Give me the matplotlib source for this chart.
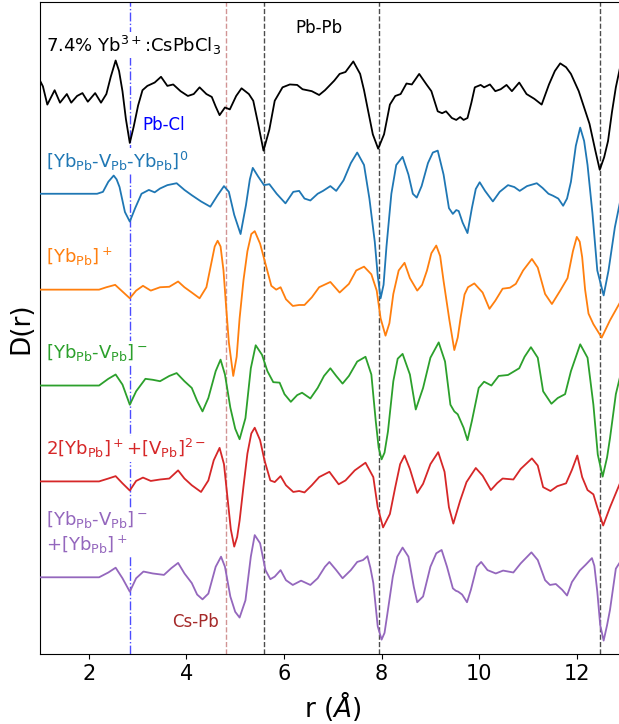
import matplotlib
matplotlib.use("Agg")
import matplotlib.pyplot as plt

# D(r) curves, (r, D) pairs relative to each curve's own baseline
black = [(1.00, 0.18), (1.06, 0.12), (1.15, -0.07), (1.30, 0.08), (1.41, -0.05), (1.55, 0.04), (1.64, -0.05),
         (1.76, 0.02), (1.87, 0.05), (1.98, -0.04), (2.13, 0.05), (2.25, -0.05), (2.36, 0.04), (2.45, 0.22),
         (2.55, 0.39), (2.62, 0.28), (2.69, 0.07), (2.76, -0.22), (2.84, -0.47), (2.92, -0.30), (3.01, -0.08),
         (3.10, 0.08), (3.20, 0.125), (3.35, 0.16), (3.48, 0.22), (3.61, 0.125), (3.73, 0.14), (3.88, 0.07),
         (4.03, 0.02), (4.15, 0.04), (4.27, 0.11), (4.41, 0.04), (4.52, 0.01), (4.60, -0.09), (4.68, -0.18),
         (4.79, -0.10), (4.89, -0.12), (5.02, 0.02), (5.13, 0.10), (5.28, 0.04), (5.37, -0.03), (5.47, -0.27),
         (5.58, -0.55), (5.70, -0.33), (5.81, -0.03), (5.97, 0.11), (6.12, 0.14), (6.27, 0.135), (6.38, 0.09),
         (6.57, 0.07), (6.72, 0.03), (6.84, 0.08), (7.03, 0.18), (7.14, 0.25), (7.26, 0.27), (7.42, 0.38),
         (7.56, 0.25), (7.64, 0.08), (7.71, -0.10), (7.82, -0.38), (7.93, -0.53), (8.05, -0.38), (8.17, -0.07),
         (8.28, 0.02), (8.39, 0.04), (8.51, 0.15), (8.62, 0.14), (8.77, 0.25), (8.92, 0.14), (9.02, 0.07),
         (9.15, -0.14), (9.24, -0.16), (9.32, -0.14), (9.44, -0.21), (9.53, -0.23), (9.61, -0.20), (9.68, -0.23),
         (9.76, -0.21), (9.84, -0.05), (9.91, 0.11), (10.03, 0.135), (10.10, 0.11), (10.22, 0.14), (10.33, 0.07),
         (10.44, 0.09), (10.56, 0.135), (10.67, 0.07), (10.82, 0.16), (10.97, 0.04), (11.13, -0.01), (11.28, -0.07),
         (11.43, 0.14), (11.55, 0.28), (11.66, 0.36), (11.78, 0.32), (11.88, 0.25), (12.04, 0.07), (12.26, -0.27),
         (12.38, -0.55), (12.47, -0.75), (12.56, -0.62), (12.64, -0.45), (12.72, -0.15), (12.80, 0.11), (12.90, 0.35)]

blue = [(1.0, 0), (2.17, 0), (2.29, 0.02), (2.40, 0.125), (2.51, 0.19), (2.57, 0.15), (2.63, 0.07), (2.74, -0.19),
        (2.84, -0.29), (2.95, -0.15), (3.08, 0.0), (3.23, 0.04), (3.35, 0.015), (3.46, 0.055), (3.61, 0.09),
        (3.80, 0.11), (3.96, 0.04), (4.11, -0.015), (4.30, -0.08), (4.49, -0.135), (4.64, -0.015), (4.77, 0.08),
        (4.87, 0.02), (4.98, -0.22), (5.11, -0.42), (5.22, -0.12), (5.30, 0.15), (5.36, 0.27), (5.47, 0.18),
        (5.59, 0.09), (5.70, 0.10), (5.85, 0.0), (6.03, -0.10), (6.19, 0.02), (6.31, 0.03), (6.42, -0.05),
        (6.54, -0.07), (6.69, 0.0), (6.80, 0.03), (6.95, 0.08), (7.07, 0.03), (7.22, 0.14), (7.37, 0.32),
        (7.50, 0.43), (7.64, 0.30), (7.75, -0.05), (7.86, -0.50), (7.92, -0.85), (7.98, -1.09), (8.04, -0.95),
        (8.10, -0.55), (8.20, 0.0), (8.30, 0.30), (8.43, 0.385), (8.55, 0.20), (8.64, 0.0), (8.72, -0.04),
        (8.82, 0.08), (8.95, 0.32), (9.05, 0.43), (9.15, 0.45), (9.27, 0.20), (9.38, -0.15), (9.46, -0.21),
        (9.53, -0.17), (9.58, -0.18), (9.66, -0.30), (9.76, -0.41), (9.85, -0.15), (9.93, 0.05), (10.01, 0.12),
        (10.12, 0.03), (10.28, -0.08), (10.42, 0.02), (10.59, 0.09), (10.72, 0.07), (10.83, 0.03), (10.98, 0.08),
        (11.18, 0.11), (11.30, 0.06), (11.42, 0.0), (11.51, -0.02), (11.62, -0.05), (11.72, -0.125), (11.80, -0.05),
        (11.88, 0.125), (11.98, 0.50), (12.07, 0.69), (12.15, 0.55), (12.22, 0.30), (12.32, -0.20), (12.42, -0.80),
        (12.55, -1.06), (12.65, -0.80), (12.78, -0.35), (12.90, -0.05)]

orange = [(1.0, 0), (2.21, 0), (2.36, 0.025), (2.54, 0.05), (2.69, -0.02), (2.84, -0.09), (2.97, -0.01),
          (3.11, 0.04), (3.27, -0.01), (3.46, 0.025), (3.65, 0.03), (3.83, 0.085), (3.96, 0.025), (4.11, -0.03),
          (4.27, -0.09), (4.41, 0.025), (4.52, 0.30), (4.58, 0.45), (4.64, 0.51), (4.70, 0.45), (4.76, 0.20),
          (4.81, -0.15), (4.87, -0.55), (4.96, -0.90), (5.03, -0.70), (5.09, -0.30), (5.17, 0.10), (5.25, 0.40),
          (5.33, 0.58), (5.40, 0.61), (5.51, 0.48), (5.62, 0.27), (5.74, 0.04), (5.84, 0.0), (5.93, 0.025),
          (6.04, -0.10), (6.18, -0.17), (6.31, -0.16), (6.42, -0.16), (6.57, -0.08), (6.72, 0.025), (6.95, 0.08),
          (7.14, -0.03), (7.33, 0.06), (7.48, 0.20), (7.64, 0.24), (7.79, 0.16), (7.90, -0.01), (7.98, -0.30),
          (8.08, -0.48), (8.16, -0.35), (8.24, -0.045), (8.35, 0.20), (8.47, 0.28), (8.58, 0.12), (8.73, -0.01),
          (8.83, 0.05), (8.93, 0.20), (9.02, 0.38), (9.12, 0.46), (9.20, 0.35), (9.27, 0.09), (9.39, -0.32),
          (9.49, -0.63), (9.56, -0.50), (9.62, -0.29), (9.70, -0.05), (9.77, 0.025), (9.90, 0.065), (10.07, -0.03),
          (10.21, -0.20), (10.33, -0.115), (10.48, 0.01), (10.63, 0.02), (10.75, 0.06), (10.90, 0.20), (11.08, 0.32),
          (11.20, 0.23), (11.35, -0.045), (11.49, -0.15), (11.66, -0.01), (11.81, 0.12), (11.92, 0.40), (12.00, 0.55),
          (12.06, 0.50), (12.11, 0.34), (12.17, 0.0), (12.24, -0.25), (12.34, -0.36), (12.51, -0.50), (12.68, -0.32),
          (12.90, -0.12)]

green = [(1.0, 0), (2.21, 0), (2.40, 0.07), (2.55, 0.115), (2.69, 0.01), (2.84, -0.20), (2.97, -0.06), (3.16, 0.07),
         (3.31, 0.06), (3.46, 0.045), (3.65, 0.10), (3.80, 0.13), (3.96, 0.045), (4.11, -0.025), (4.22, -0.16),
         (4.33, -0.27), (4.45, -0.13), (4.60, 0.15), (4.70, 0.27), (4.79, 0.115), (4.90, -0.23), (5.00, -0.45),
         (5.09, -0.56), (5.21, -0.34), (5.32, 0.18), (5.42, 0.42), (5.55, 0.32), (5.66, 0.15), (5.78, 0.035),
         (5.91, 0.03), (6.01, -0.09), (6.14, -0.17), (6.27, -0.10), (6.37, -0.075), (6.54, -0.135), (6.69, -0.025),
         (6.82, 0.10), (6.95, 0.18), (7.07, 0.10), (7.20, 0.02), (7.33, 0.10), (7.50, 0.25), (7.67, 0.30),
         (7.79, 0.115), (7.88, -0.37), (7.94, -0.65), (8.00, -0.77), (8.06, -0.70), (8.13, -0.48), (8.24, 0.045),
         (8.33, 0.28), (8.43, 0.33), (8.58, 0.115), (8.70, -0.25), (8.85, -0.025), (9.00, 0.29), (9.17, 0.45),
         (9.30, 0.25), (9.41, -0.20), (9.49, -0.27), (9.56, -0.30), (9.68, -0.44), (9.76, -0.57), (9.85, -0.37),
         (9.99, -0.025), (10.10, 0.04), (10.25, 0.0), (10.40, 0.10), (10.59, 0.11), (10.82, 0.18), (10.93, 0.30),
         (11.06, 0.40), (11.20, 0.29), (11.31, -0.06), (11.48, -0.19), (11.61, -0.13), (11.76, -0.09), (11.88, 0.15),
         (12.07, 0.43), (12.22, 0.29), (12.34, -0.20), (12.43, -0.72), (12.53, -0.95), (12.62, -0.75),
         (12.68, -0.55), (12.80, -0.09), (12.90, 0.12)]

red = [(1.0, 0), (2.21, 0), (2.40, 0.03), (2.55, 0.055), (2.69, -0.02), (2.84, -0.095), (2.97, 0.005), (3.11, 0.04),
       (3.27, 0.005), (3.46, 0.02), (3.65, 0.03), (3.83, 0.115), (3.96, 0.03), (4.11, -0.04), (4.30, -0.11),
       (4.45, 0.01), (4.56, 0.22), (4.68, 0.35), (4.77, 0.18), (4.84, -0.16), (4.91, -0.50), (4.98, -0.68),
       (5.04, -0.58), (5.09, -0.41), (5.17, -0.05), (5.25, 0.29), (5.33, 0.50), (5.40, 0.56), (5.51, 0.43),
       (5.60, 0.22), (5.72, 0.01), (5.81, -0.007), (5.93, 0.055), (6.04, -0.04), (6.19, -0.11), (6.31, -0.10),
       (6.42, -0.115), (6.57, -0.04), (6.72, 0.045), (6.93, 0.10), (7.12, -0.03), (7.26, 0.01), (7.45, 0.115),
       (7.67, 0.195), (7.83, 0.045), (7.92, -0.27), (8.03, -0.48), (8.17, -0.34), (8.28, -0.06), (8.38, 0.18),
       (8.47, 0.27), (8.58, 0.13), (8.73, -0.12), (8.85, -0.025), (9.00, 0.18), (9.16, 0.305), (9.29, 0.10),
       (9.38, -0.27), (9.47, -0.44), (9.61, -0.20), (9.74, -0.007), (9.93, 0.14), (10.07, 0.06), (10.24, -0.09),
       (10.37, -0.017), (10.48, 0.03), (10.70, 0.02), (10.85, 0.13), (11.08, 0.24), (11.20, 0.165), (11.31, -0.06),
       (11.46, -0.10), (11.60, -0.05), (11.78, -0.02), (11.90, 0.12), (12.01, 0.27), (12.11, 0.045), (12.22, -0.09),
       (12.34, -0.135), (12.42, -0.27), (12.54, -0.46), (12.68, -0.27), (12.90, 0.0)]

purple = [(1.0, 0), (2.21, 0), (2.40, 0.05), (2.55, 0.10), (2.69, -0.01), (2.84, -0.15), (2.97, -0.01), (3.12, 0.06),
          (3.31, 0.04), (3.54, 0.025), (3.69, 0.095), (3.83, 0.15), (3.96, 0.04), (4.11, -0.06), (4.22, -0.18),
          (4.33, -0.23), (4.45, -0.17), (4.60, 0.11), (4.71, 0.215), (4.79, 0.11), (4.90, -0.20), (5.00, -0.36),
          (5.09, -0.42), (5.21, -0.24), (5.32, 0.215), (5.40, 0.44), (5.51, 0.355), (5.62, 0.075), (5.72, -0.02),
          (5.81, 0.007), (5.93, 0.075), (6.04, -0.03), (6.18, -0.08), (6.35, -0.035), (6.54, -0.08), (6.69, -0.01),
          (6.84, 0.11), (6.93, 0.16), (7.07, 0.075), (7.20, -0.01), (7.37, 0.075), (7.50, 0.16), (7.62, 0.18),
          (7.71, 0.22), (7.77, 0.10), (7.83, -0.06), (7.92, -0.51), (8.00, -0.65), (8.06, -0.58), (8.11, -0.41),
          (8.23, 0.007), (8.32, 0.215), (8.43, 0.31), (8.55, 0.215), (8.66, -0.10), (8.73, -0.26), (8.85, -0.20),
          (9.00, 0.11), (9.12, 0.25), (9.23, 0.285), (9.34, 0.11), (9.46, -0.115), (9.52, -0.14), (9.57, -0.15),
          (9.65, -0.18), (9.75, -0.26), (9.83, -0.13), (9.95, 0.11), (10.04, 0.16), (10.17, 0.075), (10.34, 0.04),
          (10.49, 0.07), (10.70, 0.05), (10.85, 0.145), (11.07, 0.26), (11.20, 0.18), (11.35, -0.03), (11.45, -0.08),
          (11.57, -0.07), (11.70, -0.13), (11.80, -0.19), (11.90, -0.05), (12.06, 0.07), (12.18, 0.13), (12.31, 0.20),
          (12.36, 0.12), (12.42, -0.15), (12.48, -0.50), (12.55, -0.66), (12.62, -0.50), (12.68, -0.34),
          (12.80, 0.09), (12.90, 0.17)]

curves = [black, blue, orange, green, red, purple]
colors = ['k', 'C0', 'C1', 'C2', 'C3', 'C4']
offsets = [5, 4, 3, 2, 1, 0]
names = [r'7.4% Yb$^{3+}$:CsPbCl$_3$',
         r'[Yb$_{\rm Pb}$-V$_{\rm Pb}$-Yb$_{\rm Pb}$]$^0$',
         r'[Yb$_{\rm Pb}$]$^+$',
         r'[Yb$_{\rm Pb}$-V$_{\rm Pb}$]$^-$',
         r'2[Yb$_{\rm Pb}$]$^+$+[V$_{\rm Pb}$]$^{2-}$',
         r'[Yb$_{\rm Pb}$-V$_{\rm Pb}$]$^-$' + '\n' + r'+[Yb$_{\rm Pb}$]$^+$']
name_y = [5.55, 4.34, 3.34, 2.34, 1.34, 0.47]

# bond distances marked with vertical lines
r_pbcl = 2.84
r_cspb = 4.81
r_pbpb = [5.58, 7.94, 12.47]

fig = plt.figure(figsize=(6.19, 7.24), dpi=100)
ax = fig.add_axes([40 / 619, 70 / 724, 585.6 / 619, 652 / 724])

ax.axvline(r_pbcl, color='b', ls='-.', lw=1, alpha=0.7, zorder=1)
ax.axvline(r_cspb, color='brown', ls='--', lw=1, alpha=0.5, zorder=1)
for r in r_pbpb:
    ax.axvline(r, color='k', ls='--', lw=1, alpha=0.7, zorder=1)

for data, c, off in zip(curves, colors, offsets):
    rr = [p[0] for p in data]
    dd = [p[1] + off for p in data]
    ax.plot(rr, dd, color=c, lw=1.3, zorder=3)

# labels sit over the vertical lines but under the curves
for txt, c, y in zip(names, colors, name_y):
    ax.text(1.12, y, txt, color=c, fontsize=13, va='center', ha='left', zorder=2,
            bbox=dict(facecolor='white', edgecolor='none', pad=1))

ax.text(3.09, 4.72, 'Pb-Cl', color='b', fontsize=12, va='center')
ax.text(6.24, 5.73, 'Pb-Pb', color='k', fontsize=12, va='center')
ax.text(3.70, -0.47, 'Cs-Pb', color='brown', fontsize=12, va='center')

ax.set_xlim(1, 13)
ax.set_ylim(-0.8, 6.0)
ax.set_xticks([2, 4, 6, 8, 10, 12])
ax.set_yticks([])
ax.tick_params(axis='x', labelsize=15)
ax.set_xlabel(r'r ($\AA$)', fontsize=19)
ax.set_ylabel('D(r)', fontsize=19)

plt.savefig('out.png', dpi=100)
